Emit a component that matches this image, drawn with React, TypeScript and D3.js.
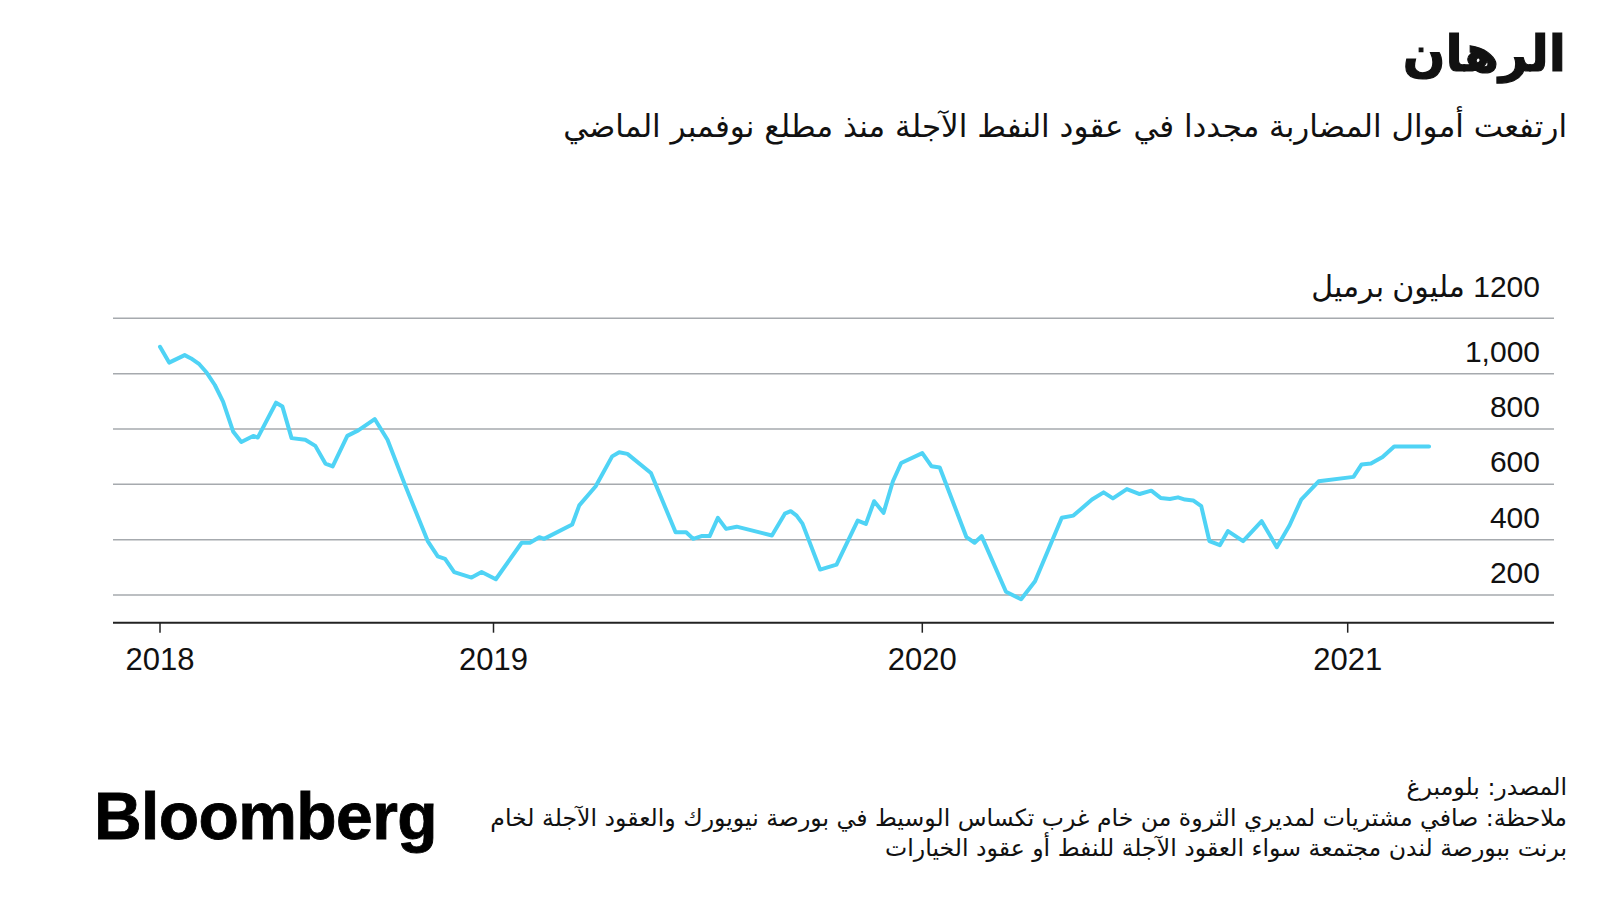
import React from "react";
import * as d3 from "d3";

const dates2018 = ["2018-01-01","2018-01-11","2018-01-28","2018-02-04","2018-02-13","2018-02-21","2018-03-02","2018-03-11","2018-03-22","2018-03-31","2018-04-13","2018-04-18","2018-05-08","2018-05-15","2018-05-25","2018-06-09","2018-06-20","2018-07-01","2018-07-09","2018-07-25","2018-08-06","2018-08-24","2018-09-07","2018-09-26","2018-10-21","2018-11-01","2018-11-09","2018-11-19","2018-12-08","2018-12-19"];
const values2018 = [1097,1040,1067,1055,1034,1004,959,899,791,753,775,769,895,881,767,761,739,675,665,775,795,836,761,599,395,340,331,283,263,283];

const dates2019 = ["2019-01-03","2019-01-25","2019-02-01","2019-02-09","2019-02-13","2019-03-09","2019-03-15","2019-03-29","2019-04-12","2019-04-18","2019-04-25","2019-05-15","2019-06-05","2019-06-14","2019-06-20","2019-06-27","2019-07-04","2019-07-11","2019-07-18","2019-07-27","2019-08-26","2019-09-06","2019-09-11","2019-09-16","2019-09-21","2019-10-06","2019-10-20","2019-11-07","2019-11-14","2019-11-21","2019-11-29","2019-12-07","2019-12-14"];
const values2019 = [257,389,389,409,403,455,524,593,701,716,710,641,427,427,403,413,413,479,439,447,415,494,503,487,458,292,310,469,457,539,497,611,677];

const dates2020 = ["2020-01-01","2020-01-09","2020-01-16","2020-02-08","2020-02-15","2020-02-21","2020-03-13","2020-03-26","2020-04-07","2020-04-30","2020-05-10","2020-05-26","2020-06-05","2020-06-13","2020-06-25","2020-07-06","2020-07-16","2020-07-24","2020-08-01","2020-08-08","2020-08-14","2020-08-21","2020-08-28","2020-09-04","2020-09-13","2020-09-20","2020-10-03","2020-10-19","2020-11-01","2020-11-12","2020-11-22","2020-11-28","2020-12-07"];
const values2020 = [713,665,661,409,389,413,212,185,250,479,487,545,571,549,583,565,577,551,547,553,545,542,521,395,380,431,395,467,373,452,545,571,611];

const dates2021 = ["2021-01-06","2021-01-13","2021-01-21","2021-01-31","2021-02-10","2021-03-12"];
const values2021 = [627,672,675,699,737,737];

const yearTicks = ["2018", "2019", "2020", "2021"];
const yTicks = [200, 400, 600, 800, 1000, 1200];
const yTickLabels = ["200", "400", "600", "800", "1,000", "1200 مليون برميل"];

const title = "الرهان";
const subtitle = "ارتفعت أموال المضاربة مجددا في عقود النفط الآجلة منذ مطلع نوفمبر الماضي";
const footLines = [
  "المصدر: بلومبرغ",
  "ملاحظة: صافي مشتريات لمديري الثروة من خام غرب تكساس الوسيط في بورصة نيويورك والعقود الآجلة لخام",
  "برنت ببورصة لندن مجتمعة سواء العقود الآجلة للنفط أو عقود الخيارات",
];

const parse = d3.timeParse("%Y-%m-%d");
const yearParse = d3.timeParse("%Y");

const FONT = "'Liberation Sans', Arial, 'DejaVu Sans', sans-serif";
const AR_FONT = "'DejaVu Sans', 'Liberation Sans', sans-serif";

export default function App() {
  const W = 1600, H = 900;
  const allDates = [...dates2018, ...dates2019, ...dates2020, ...dates2021];
  const allValues = [...values2018, ...values2019, ...values2020, ...values2021];
  const data = allDates.map((d, i) => ({ date: parse(d) as Date, value: allValues[i] }));

  const yearDates = yearTicks.map((y) => yearParse(y) as Date);
  const x = d3.scaleTime().domain(yearDates).range([160, 493.5, 922.3, 1347.7]);
  const y = d3.scaleLinear().domain([100, 1200]).range([622.7, 318.3]);

  const gridLeft = 113;
  const gridRight = 1554;
  const line = d3
    .line<{ date: Date; value: number }>()
    .x((d) => x(d.date))
    .y((d) => y(d.value));

  return (
    <svg
      width={W}
      height={H}
      viewBox={`0 0 ${W} ${H}`}
      style={{ position: "absolute", left: 0, top: 0, background: "#fff" }}
    >
      <rect x={0} y={0} width={W} height={H} fill="#fff" />
      <text
        x={1566}
        y={71}
        direction="rtl"
        textAnchor="start"
        fontFamily={AR_FONT}
        fontWeight="bold"
        fontSize={50}
        fill="#111"
        stroke="#111"
        strokeWidth={1.2}
      >
        {title}
      </text>
      <text
        x={1567}
        y={137}
        direction="rtl"
        textAnchor="start"
        fontFamily={AR_FONT}
        fontSize={31}
        fill="#111"
      >
        {subtitle}
      </text>

      {yTicks.map((t, i) => (
        <g key={t}>
          <line
            x1={gridLeft}
            x2={gridRight}
            y1={y(t)}
            y2={y(t)}
            stroke="#a6aaae"
            strokeWidth={1.5}
          />
          {i === yTicks.length - 1 ? (
            <text
              x={1540}
              y={y(t) - 21}
              direction="rtl"
              textAnchor="start"
              fontFamily={FONT}
              fontSize={30}
              fill="#111"
            >
              {yTickLabels[i]}
            </text>
          ) : (
            <text
              x={1540}
              y={y(t) - 12}
              textAnchor="end"
              fontFamily={FONT}
              fontSize={30}
              fill="#111"
            >
              {yTickLabels[i]}
            </text>
          )}
        </g>
      ))}

      <line x1={gridLeft} x2={gridRight} y1={y(100)} y2={y(100)} stroke="#222" strokeWidth={2} />
      {yearDates.map((d, i) => (
        <g key={yearTicks[i]}>
          <line x1={x(d)} x2={x(d)} y1={y(100)} y2={y(100) + 10} stroke="#222" strokeWidth={1.5} />
          <text
            x={x(d)}
            y={y(100) + 47}
            textAnchor="middle"
            fontFamily={FONT}
            fontSize={31}
            fill="#111"
          >
            {yearTicks[i]}
          </text>
        </g>
      ))}

      <path
        d={line(data) || ""}
        fill="none"
        stroke="#4fd3f5"
        strokeWidth={4}
        strokeLinejoin="round"
        strokeLinecap="round"
      />

      <text
        x={94}
        y={839}
        fontFamily={FONT}
        fontWeight="bold"
        fontSize={66}
        fill="#000"
        stroke="#000"
        strokeWidth={0.8}
        letterSpacing={-0.6}
      >
        Bloomberg
      </text>

      {footLines.map((l, i) => (
        <text
          key={i}
          x={1567}
          y={795 + i * 30.5}
          direction="rtl"
          textAnchor="start"
          fontFamily={AR_FONT}
          fontSize={23.6}
          fill="#111"
        >
          {l}
        </text>
      ))}
    </svg>
  );
}
